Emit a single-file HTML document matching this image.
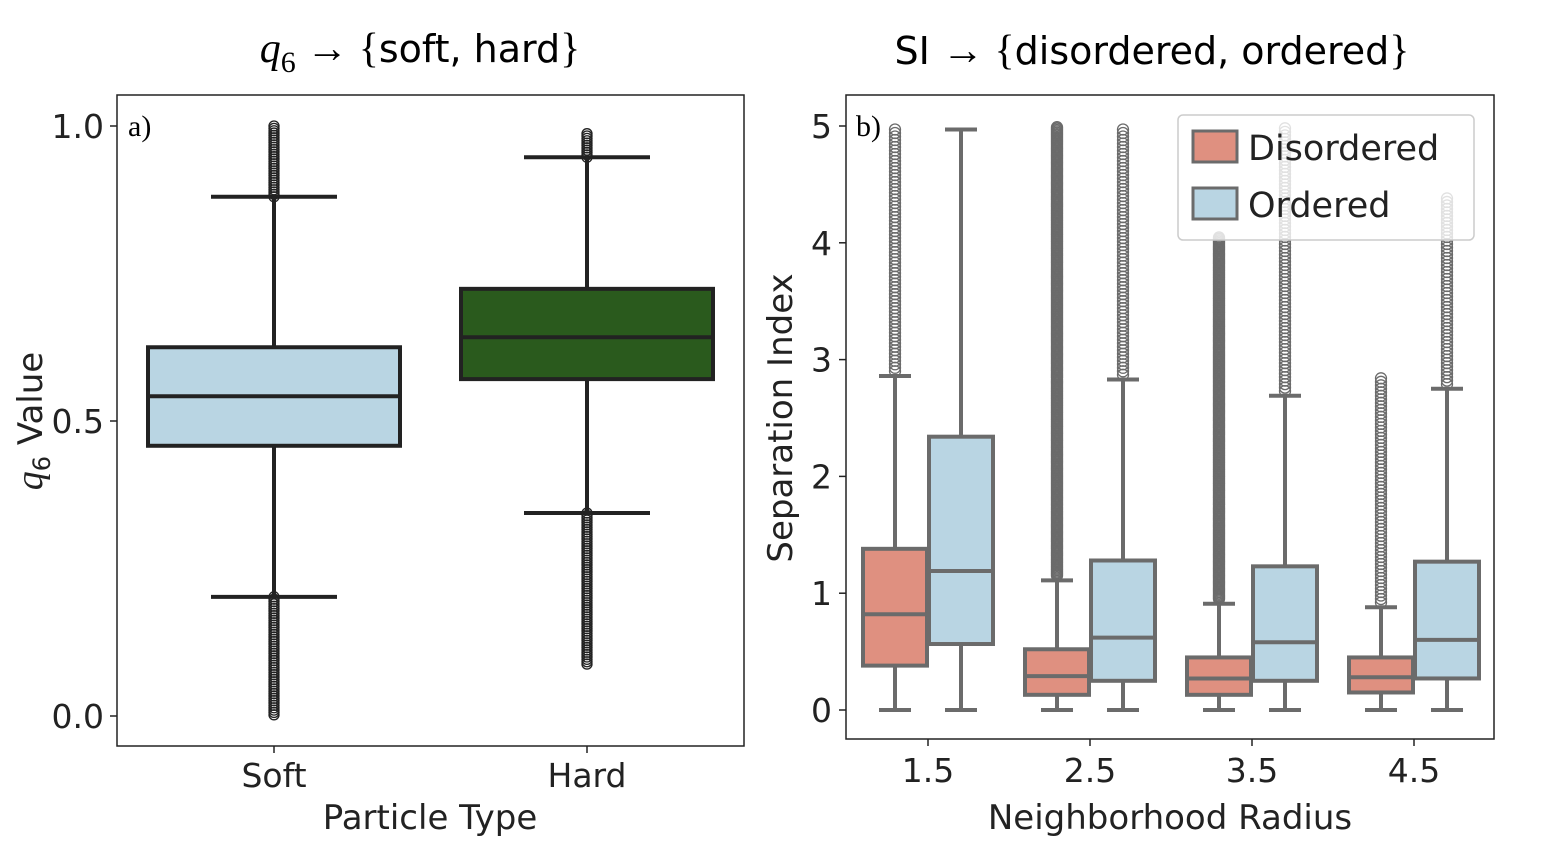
<!DOCTYPE html>
<html><head><meta charset="utf-8"><style>
html,body{margin:0;padding:0;background:#fff;}
svg{display:block;font-family:"DejaVu Sans","Liberation Sans",sans-serif;}
</style></head><body>
<svg id="c" width="1550" height="850" viewBox="0 0 1550 850">
<text x="420" y="62" font-size="42" text-anchor="middle" font-family="Liberation Serif,serif"><tspan font-style="italic">q</tspan><tspan font-size="30" dy="10">6</tspan><tspan dy="-10"> → {</tspan><tspan font-family="DejaVu Sans,sans-serif" font-size="38">soft, hard</tspan><tspan>}</tspan></text>
<text x="1152" y="64" font-size="38" text-anchor="middle">SI <tspan font-family="Liberation Serif,serif" font-size="42">→ {</tspan>disordered, ordered<tspan font-family="Liberation Serif,serif" font-size="42">}</tspan></text>
<g id="L"></g><g id="R"></g>
</svg>
<script>
// ---- Left panel data ----
const leftCats=["Soft","Hard"];
const leftQ1=[0.458,0.571], leftMed=[0.542,0.642], leftQ3=[0.625,0.724];
const leftWLo=[0.202,0.344], leftWHi=[0.880,0.947];
const leftOutHiMax=[1.0,0.99], leftOutLoMin=[0.0,0.085];
const leftTicks=[0.0,0.5,1.0];
// ---- Right panel data ----
const radii=["1.5","2.5","3.5","4.5"];
const dQ1=[0.38,0.13,0.13,0.15], dMed=[0.82,0.29,0.27,0.28], dQ3=[1.38,0.52,0.45,0.45], dWHi=[2.86,1.11,0.91,0.88], dOutMax=[5.0,5.0,4.05,2.85];
const oQ1=[0.565,0.25,0.25,0.27], oMed=[1.19,0.62,0.58,0.60], oQ3=[2.34,1.28,1.23,1.27], oWHi=[4.97,2.83,2.69,2.75], oOutMax=[5.0,5.0,5.0,4.4];
const rightTicks=[0,1,2,3,4,5];
const NS="http://www.w3.org/2000/svg";
function mk(p,t,a){const e=document.createElementNS(NS,t);for(const k in a)e.setAttribute(k,a[k]);p.appendChild(e);return e;}
// Left
const L=document.getElementById('L');
const ly=v=>716-v*590;
const lx=i=>274+i*313;
let fr=mk(L,'rect',{x:117,y:95,width:627,height:651,fill:'none',stroke:'#222','stroke-width':1.5});

leftTicks.forEach(t=>{mk(L,'line',{x1:110,x2:117,y1:ly(t),y2:ly(t),stroke:'#222','stroke-width':1.5});
 const tx=mk(L,'text',{x:104,y:ly(t)+12,'font-size':33,'text-anchor':'end',fill:'#222'});tx.textContent=t.toFixed(1);
 });
const fills=['#b9d5e3','#2a5a1d'];
leftCats.forEach((c,i)=>{const x=lx(i),w=252,g=mk(L,'g',{});
 
 mk(g,'line',{x1:x,x2:x,y1:ly(leftWHi[i]),y2:ly(leftWLo[i]),stroke:'#222','stroke-width':4});
 [leftWHi[i],leftWLo[i]].forEach(v=>mk(g,'line',{x1:x-63,x2:x+63,y1:ly(v),y2:ly(v),stroke:'#222','stroke-width':4}));
 for(let v=leftWHi[i];v<=leftOutHiMax[i];v+=0.004)mk(g,'circle',{cx:x,cy:ly(v),r:5,fill:'none',stroke:'#222','stroke-width':1.3});
 for(let v=leftWLo[i];v>=leftOutLoMin[i];v-=0.004)mk(g,'circle',{cx:x,cy:ly(v),r:5,fill:'none',stroke:'#222','stroke-width':1.3});
 mk(g,'rect',{x:x-w/2,y:ly(leftQ3[i]),width:w,height:ly(leftQ1[i])-ly(leftQ3[i]),fill:fills[i],stroke:'#222','stroke-width':4});
 mk(g,'line',{x1:x-w/2,x2:x+w/2,y1:ly(leftMed[i]),y2:ly(leftMed[i]),stroke:'#222','stroke-width':4});
 mk(L,'line',{x1:x,x2:x,y1:746,y2:753,stroke:'#222','stroke-width':1.5});
 const t=mk(L,'text',{x:x,y:787,'font-size':33,'text-anchor':'middle',fill:'#222'});t.textContent=c;
 });
let t1=mk(L,'text',{x:430,y:829,'font-size':34,'text-anchor':'middle',fill:'#222'});t1.textContent='Particle Type';

let t2=mk(L,'text',{x:0,y:0,'font-size':34,'text-anchor':'middle',fill:'#222',transform:'translate(42,421) rotate(-90)'});
t2.innerHTML='<tspan font-style="italic" font-family="Liberation Serif,serif" font-size="38">q</tspan><tspan font-size="24" dy="8">6</tspan><tspan dy="-8"> Value</tspan>';

let ta=mk(L,'text',{x:128,y:136,'font-size':30,'font-family':'Liberation Serif,serif'});ta.textContent='a)';

// Right
const R=document.getElementById('R');
const ry=v=>710-v*116.8;
const rx=i=>928+i*162;
let fr2=mk(R,'rect',{x:846,y:95,width:648,height:644,fill:'none',stroke:'#222','stroke-width':1.5});

rightTicks.forEach(t=>{mk(R,'line',{x1:839,x2:846,y1:ry(t),y2:ry(t),stroke:'#222','stroke-width':1.5});
 const tx=mk(R,'text',{x:832,y:ry(t)+12,'font-size':33,'text-anchor':'end',fill:'#222'});tx.textContent=t;
 });
const gc='#6b6b6b';
function box(name,cx,q1,med,q3,wh,om,fill){const g=mk(R,'g',{});
 
 const w=64;
 mk(g,'line',{x1:cx,x2:cx,y1:ry(wh),y2:ry(0),stroke:gc,'stroke-width':4});
 [wh,0].forEach(v=>mk(g,'line',{x1:cx-16,x2:cx+16,y1:ry(v),y2:ry(v),stroke:gc,'stroke-width':4}));
 const step=om-wh>3?0.012:0.03;
 for(let v=wh+0.04;v<=om;v+=step)mk(g,'circle',{cx:cx,cy:ry(v),r:5.5,fill:'none',stroke:gc,'stroke-width':1.3});
 mk(g,'rect',{x:cx-w/2,y:ry(q3),width:w,height:ry(q1)-ry(q3),fill:fill,stroke:gc,'stroke-width':4});
 mk(g,'line',{x1:cx-w/2,x2:cx+w/2,y1:ry(med),y2:ry(med),stroke:gc,'stroke-width':4});}
radii.forEach((r,i)=>{const x=rx(i);
 box('box-disordered-'+r,x-33,dQ1[i],dMed[i],dQ3[i],dWHi[i],dOutMax[i],'#df9080');
 box('box-ordered-'+r,x+33,oQ1[i],oMed[i],oQ3[i],oWHi[i],oOutMax[i],'#b9d5e3');
 mk(R,'line',{x1:x,x2:x,y1:739,y2:746,stroke:'#222','stroke-width':1.5});
 const t=mk(R,'text',{x:x,y:782,'font-size':33,'text-anchor':'middle',fill:'#222'});t.textContent=r;
 });
let t3=mk(R,'text',{x:1170,y:829,'font-size':34,'text-anchor':'middle',fill:'#222'});t3.textContent='Neighborhood Radius';

let t4=mk(R,'text',{x:0,y:0,'font-size':34,'text-anchor':'middle',fill:'#222',transform:'translate(792,418) rotate(-90)'});t4.textContent='Separation Index';

let tb=mk(R,'text',{x:856,y:136,'font-size':30,'font-family':'Liberation Serif,serif'});tb.textContent='b)';

const lg=mk(R,'g',{});
mk(lg,'rect',{x:1178,y:115,width:296,height:125,rx:5,fill:'#fff','fill-opacity':0.8,stroke:'#ccc','stroke-width':1.5});
[['Disordered','#df9080',131],['Ordered','#b9d5e3',188]].forEach(([n,c,y])=>{
 const e=mk(lg,'g',{});
 mk(e,'rect',{x:1193,y:y,width:44,height:31,fill:c,stroke:gc,'stroke-width':3});
 const t=mk(e,'text',{x:1248,y:y+29,'font-size':35,fill:'#222'});t.textContent=n;});
</script>
</body></html>
